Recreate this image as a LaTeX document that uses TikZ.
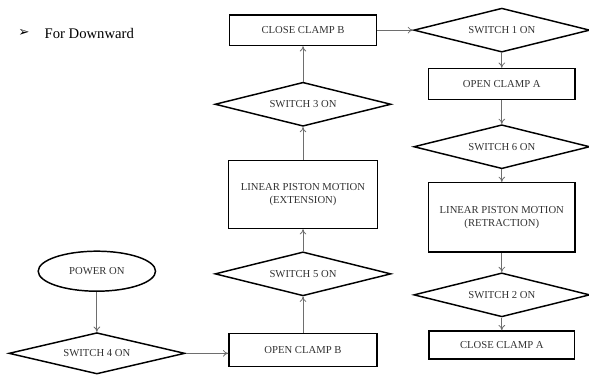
\documentclass[tikz,border=0pt]{standalone}
\usepackage{fontspec}
\setmainfont{Liberation Serif}
\newfontfamily\symbfont{DejaVu Sans}
\usepackage{tikz}
\usetikzlibrary{shapes.geometric, arrows.meta, positioning}
\usepackage{xcolor}
\definecolor{flowtext}{RGB}{50, 50, 50}
\definecolor{flowline}{RGB}{110, 110, 110}

\begin{document}
\begin{tikzpicture}[
    x=0.75pt, y=-0.75pt,
    procbox/.style={rectangle, draw, line width=1.1pt, minimum width=110pt, minimum height=23pt, inner sep=2pt, font=\fontsize{8}{9.5}\selectfont, text=flowtext, align=center},
    decision/.style={diamond, aspect=4, draw, line width=1.1pt, minimum width=132pt, minimum height=33pt, inner sep=0pt, font=\fontsize{8}{9.5}\selectfont, text=flowtext},
    startstop/.style={ellipse, draw, line width=1.1pt, minimum width=88pt, minimum height=30pt, inner sep=0pt, font=\fontsize{8}{9.5}\selectfont, text=flowtext},
    arrow/.style={-{To[length=4pt,width=5pt]}, draw=flowline, line width=0.6pt}
]
\useasboundingbox (0,0) rectangle (589,381);

% heading
\node[anchor=west, inner sep=0pt, font=\fontsize{10}{12}\selectfont] (bullet) at (18,33) {\symbfont ➢};
\node[right=11pt of bullet, inner sep=0pt, font=\fontsize{11}{13}\selectfont] (heading) {For Downward};

% middle column, bottom to top
\node[procbox, minimum width=111pt, minimum height=25pt] (openB) at (303,350) {OPEN CLAMP B};
\node[decision, above=27pt of openB] (sw5) {SWITCH 5 ON};
\node[procbox, minimum width=112pt, minimum height=51pt, above=16.5pt of sw5] (extend) {LINEAR PISTON MOTION\\(EXTENSION)};
\node[decision, above=24.5pt of extend] (sw3) {SWITCH 3 ON};
\node[procbox, above=26.5pt of sw3] (closeB) {CLOSE CLAMP B};

% right column, top to bottom
\node[decision, right=27pt of closeB] (sw1) {SWITCH 1 ON};
\node[procbox, below=11.25pt of sw1] (openA) {OPEN CLAMP A};
\node[decision, below=18pt of openA] (sw6) {SWITCH 6 ON};
\node[procbox, minimum height=52pt, below=9.4pt of sw6] (retract) {LINEAR PISTON MOTION\\(RETRACTION)};
\node[decision, below=14.5pt of retract] (sw2) {SWITCH 2 ON};
\node[procbox, minimum width=109pt, minimum height=21pt, below=9.5pt of sw2] (closeA) {CLOSE CLAMP A};

% left column
\node[decision, minimum height=31pt, left=32pt of openB, yshift=-2.5pt] (sw4) {SWITCH 4 ON};
\node[startstop, above=30pt of sw4] (power) {POWER ON};

\draw[arrow] (power) -- (sw4);
\draw[arrow] (sw4) -- (sw4 -| openB.west);
\draw[arrow] (openB) -- (sw5);
\draw[arrow] (sw5) -- (extend);
\draw[arrow] (extend) -- (sw3);
\draw[arrow] (sw3) -- (closeB);
\draw[arrow] (closeB) -- (sw1);
\draw[arrow] (sw1) -- (openA);
\draw[arrow] (openA) -- (sw6);
\draw[arrow] (sw6) -- (retract);
\draw[arrow] (retract) -- (sw2);
\draw[arrow] (sw2) -- (closeA);

\end{tikzpicture}
\end{document}
